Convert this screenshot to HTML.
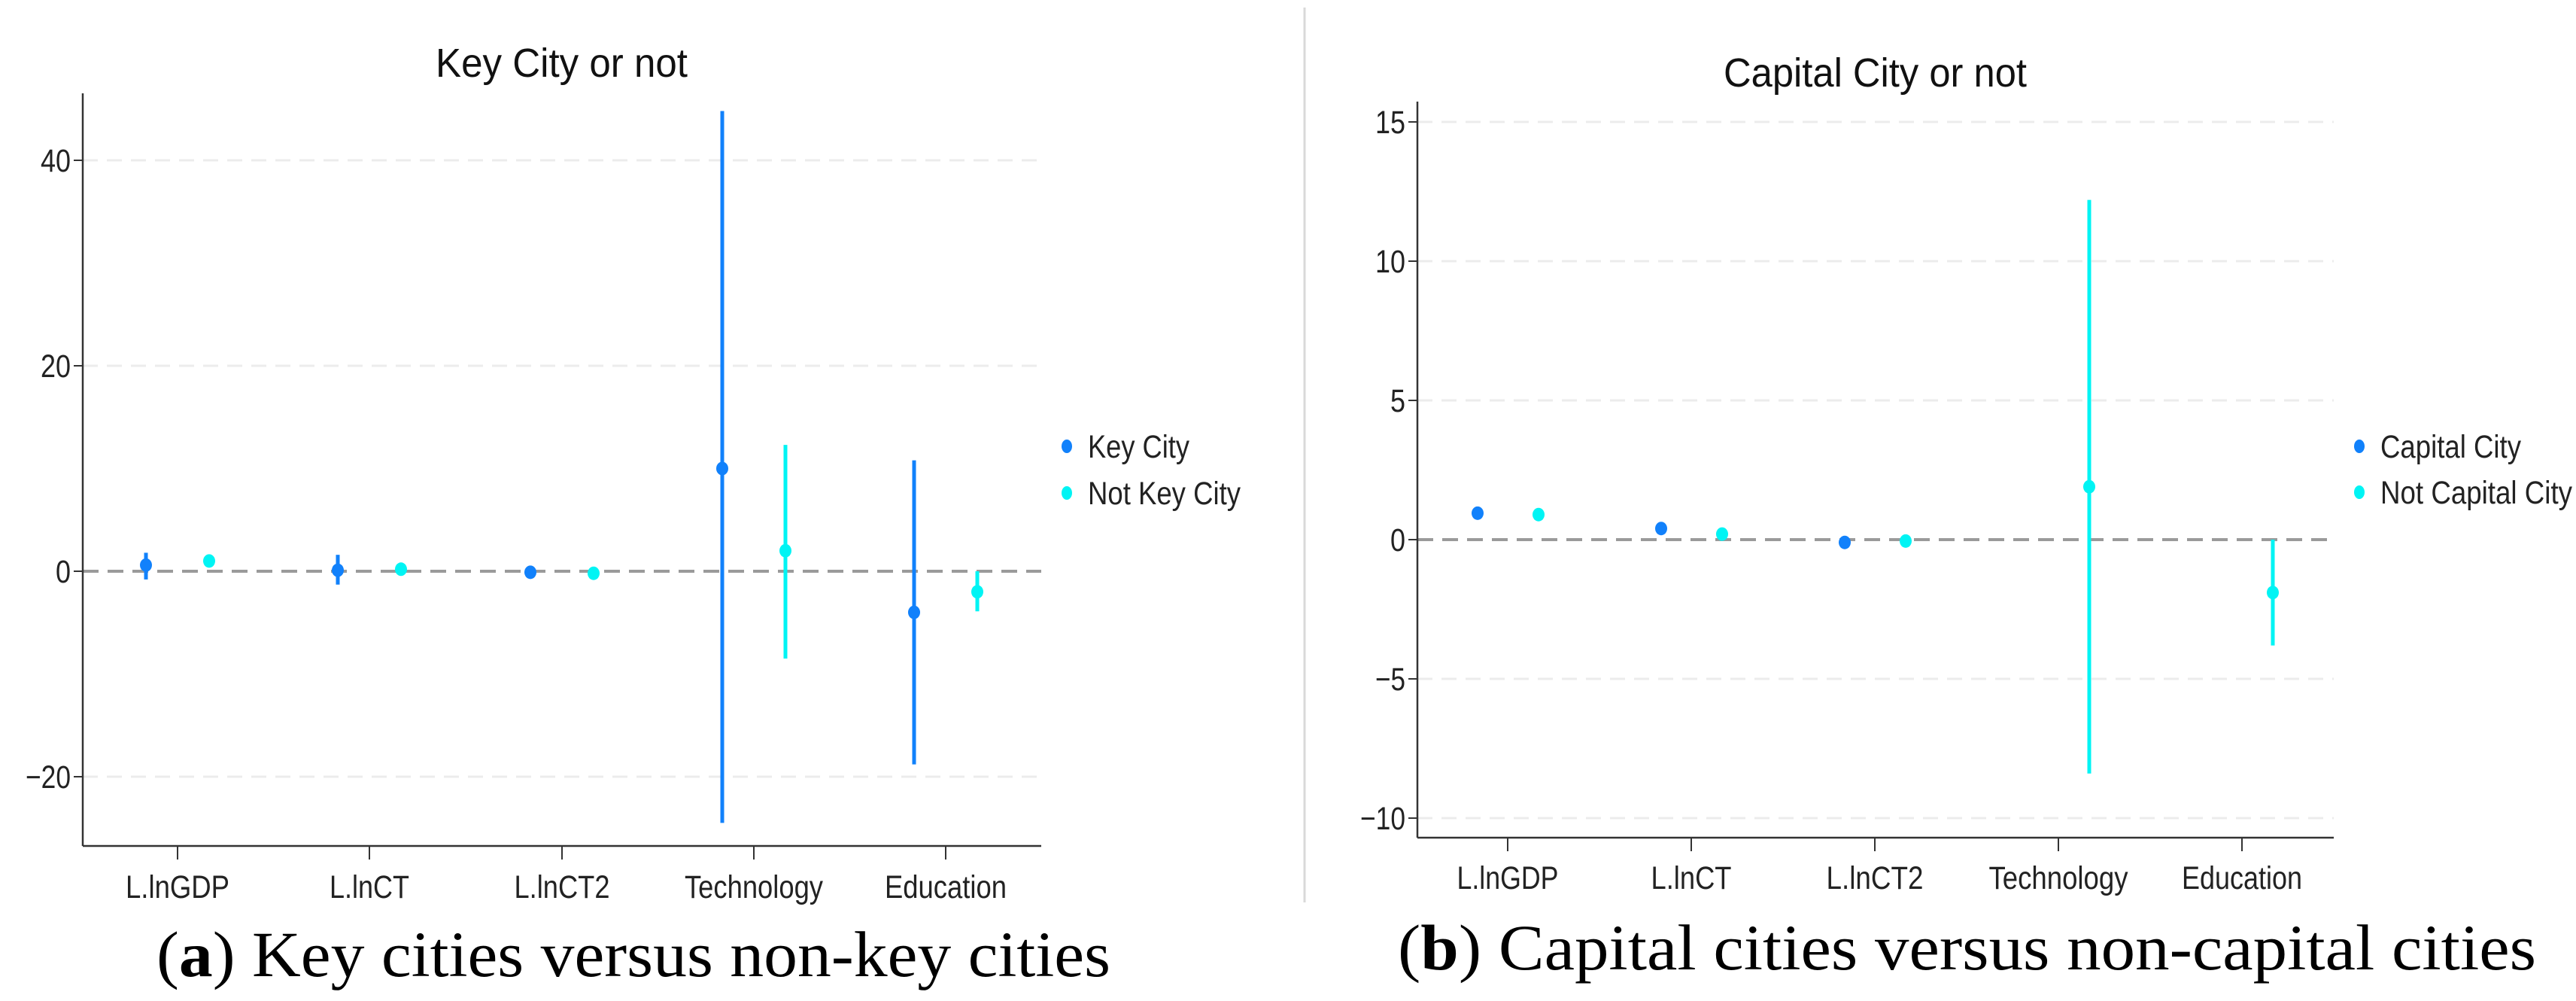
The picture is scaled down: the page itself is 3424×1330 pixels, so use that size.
<!DOCTYPE html>
<html><head><meta charset="utf-8"><style>
html,body{margin:0;padding:0;background:#fff;}
svg{display:block;font-family:"Liberation Sans",sans-serif;}
</style></head><body>
<svg id="fig" width="3424" height="1330" viewBox="0 0 3424 1330" xmlns="http://www.w3.org/2000/svg">
<line x1="1734" y1="10" x2="1734" y2="1199" stroke="#d9d9d9" stroke-width="3"/>
<g id="pa"></g>
<g id="pb"></g>
<text x="208" y="1297" font-family="Liberation Serif,serif" font-size="86" textLength="1268" lengthAdjust="spacingAndGlyphs">(<tspan font-weight="bold">a</tspan>) Key cities versus non-key cities</text>
<text x="1858" y="1288" font-family="Liberation Serif,serif" font-size="86" textLength="1513" lengthAdjust="spacingAndGlyphs">(<tspan font-weight="bold">b</tspan>) Capital cities versus non-capital cities</text>
</svg>
<script>
const categories = ["L.lnGDP","L.lnCT","L.lnCT2","Technology","Education"];
// Panel A
const keyEst = [0.6, 0.1, -0.1, 10, -4];
const keyLo = [-0.8, -1.3, -0.1, -24.5, -18.8];
const keyHi = [1.8, 1.6, -0.1, 44.8, 10.8];
const notKeyEst = [1.0, 0.2, -0.2, 2.0, -2.0];
const notKeyLo = [0.4, 0.0, -0.2, -8.5, -3.9];
const notKeyHi = [1.5, 0.4, -0.2, 12.3, 0.0];
const ticksA = [-20, 0, 20, 40];
// Panel B
const capEst = [0.95, 0.4, -0.1, null, null];
const capLo = [0.95, 0.4, -0.1, null, null];
const capHi = [0.95, 0.4, -0.1, null, null];
const notCapEst = [0.9, 0.2, -0.05, 1.9, -1.9];
const notCapLo = [0.9, 0.2, -0.05, -8.4, -3.8];
const notCapHi = [0.9, 0.2, -0.05, 12.2, 0.0];
const ticksB = [-10, -5, 0, 5, 10, 15];

const NS = "http://www.w3.org/2000/svg";
function mk(parent, tag, attrs, txt){
  const e = document.createElementNS(NS, tag);
  for (const k in attrs) e.setAttribute(k, attrs[k]);
  if (txt !== undefined) e.textContent = txt;
  parent.appendChild(e);
  return e;
}
const BLUE = "#1181fb", CYAN = "#00f4f4";

function panel(g, cfg){
  const y = v => cfg.zeroY - v * cfg.ppu;
  const x = i => cfg.cx[i];
  // gridlines
  cfg.ticks.forEach(t => {
    if (t !== 0) {
      const gl = mk(g, "line", {x1: cfg.axX, x2: cfg.rightX, y1: y(t), y2: y(t), stroke: "#ececec", "stroke-width": 3, "stroke-dasharray": "20 12"});
      
      
    }
    const tk = mk(g, "line", {x1: cfg.axX - 12, x2: cfg.axX, y1: y(t), y2: y(t), stroke: "#333", "stroke-width": 2});
    
    
    const lbl = t < 0 ? "\u2212" + Math.abs(t) : String(t);
    const tl = mk(g, "text", {x: cfg.axX - 16, y: y(t) + 15, "font-size": 43, "text-anchor": "end", fill: "#222", textLength: lbl.length * 20, lengthAdjust: "spacingAndGlyphs"}, lbl);
    
    
  });
  const zl = mk(g, "line", {x1: cfg.axX, x2: cfg.rightX, y1: y(0), y2: y(0), stroke: "#9a9a9a", "stroke-width": 4, "stroke-dasharray": "21 12"});
  
  
  // axes
  const ya = mk(g, "line", {x1: cfg.axX, x2: cfg.axX, y1: cfg.topY, y2: cfg.botY, stroke: "#333", "stroke-width": 2.5});
  
  
  const xa = mk(g, "line", {x1: cfg.axX, x2: cfg.rightX, y1: cfg.botY, y2: cfg.botY, stroke: "#333", "stroke-width": 2.5});
  
  
  categories.forEach((c, i) => {
    const xt = mk(g, "line", {x1: x(i), x2: x(i), y1: cfg.botY, y2: cfg.botY + 18, stroke: "#333", "stroke-width": 2});
    
    
    const xl = mk(g, "text", {x: x(i), y: cfg.labY, "font-size": 43, "text-anchor": "middle", fill: "#222", textLength: cfg.labW[i], lengthAdjust: "spacingAndGlyphs"}, c);
    
    
  });
  // series
  cfg.series.forEach(s => {
    s.est.forEach((v, i) => {
      if (v === null) return;
      const cx = x(i) + s.off;
      if (s.hi[i] - s.lo[i] > 0.05) {
        const bar = mk(g, "line", {x1: cx, x2: cx, y1: y(s.hi[i]), y2: y(s.lo[i]), stroke: s.color, "stroke-width": 5});
        
        
      }
      const d = mk(g, "ellipse", {cx: cx, cy: y(v), rx: 8, ry: 9, fill: s.color});
      
      
    });
  });
  // title
  const tt = mk(g, "text", {x: cfg.titleX, y: cfg.titleY, "font-size": 54, fill: "#111", textLength: cfg.titleW, lengthAdjust: "spacingAndGlyphs"}, cfg.title);
  
  
  // legend
  cfg.series.forEach((s, k) => {
    const ly = cfg.legY[k];
    const ld = mk(g, "ellipse", {cx: cfg.legX, cy: ly, rx: 7, ry: 9, fill: s.color});
    
    
    const lt = mk(g, "text", {x: cfg.legX + 28, y: ly + 15, "font-size": 43, fill: "#222", textLength: s.legW, lengthAdjust: "spacingAndGlyphs"}, s.label);
    
    
  });
}

panel(document.getElementById("pa"), {
  zeroY: 759, ppu: 13.65, axX: 110, rightX: 1384, topY: 124, botY: 1124,
  cx: [236, 491, 747, 1002, 1257], labY: 1193, labW: [138, 106, 127, 184, 162],
  ticks: ticksA, title: "Key City or not", titleX: 579, titleY: 102, titleW: 335,
  legX: 1418, legY: [593, 655],
  series: [
    {name: "key-city", label: "Key City", color: BLUE, off: -42, est: keyEst, lo: keyLo, hi: keyHi, legW: 135},
    {name: "not-key-city", label: "Not Key City", color: CYAN, off: 42, est: notKeyEst, lo: notKeyLo, hi: notKeyHi, legW: 203}
  ]
});
panel(document.getElementById("pb"), {
  zeroY: 717, ppu: 37, axX: 1884, rightX: 3102, topY: 135, botY: 1113,
  cx: [2004, 2248, 2492, 2736, 2980], labY: 1181, labW: [135, 107, 129, 185, 160],
  ticks: ticksB, title: "Capital City or not", titleX: 2291, titleY: 115, titleW: 403,
  legX: 3136, legY: [593, 654],
  series: [
    {name: "capital-city", label: "Capital City", color: BLUE, off: -40, est: capEst, lo: capLo, hi: capHi, legW: 187},
    {name: "not-capital-city", label: "Not Capital City", color: CYAN, off: 41, est: notCapEst, lo: notCapLo, hi: notCapHi, legW: 255}
  ]
});
</script>
</body></html>
